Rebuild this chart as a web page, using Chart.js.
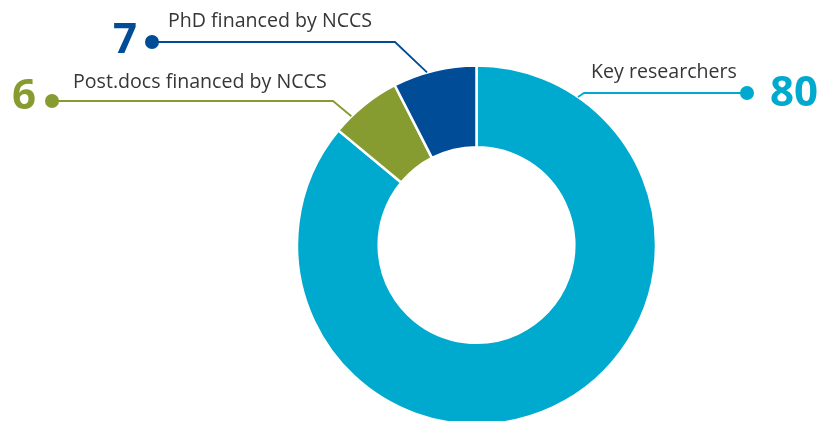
<!DOCTYPE html>
<html>
<head>
<meta charset="utf-8">
<script src="https://cdn.jsdelivr.net/npm/chart.js@4.4.1/dist/chart.umd.min.js"></script>
<style>
  html, body { margin: 0; padding: 0; background: #fff; }
  #wrap { width: 834px; height: 421px; }
</style>
</head>
<body>
<div id="wrap"><canvas id="donutChart" width="834" height="421"></canvas></div>
<script>
// data
const categories = ['Key researchers', 'Post.docs financed by NCCS', 'PhD financed by NCCS'];
const counts = [80, 6, 7];
const colors = ['#00a9ce', '#869b30', '#004c97'];

// where each callout sits (dot, elbow, angle on ring, text spots)
const callouts = [
  { dot: [747, 93], elbow: [584, 93], angle: 34.4, text: [591, 78], num: [770, 106], numAlign: 'left' },
  { dot: [52, 101], elbow: [333, 101], angle: 315.8, text: [73, 88], num: [36, 109], numAlign: 'right' },
  { dot: [152, 42], elbow: [395, 42], angle: 344, text: [168, 27], num: [137, 53], numAlign: 'right' }
];

const calloutPlugin = {
  id: 'callouts',
  afterDatasetsDraw(chart) {
    const ctx = chart.ctx;
    const meta = chart.getDatasetMeta(0);
    meta.data.forEach((arc, i) => {
      const c = callouts[i];
      const a = c.angle * Math.PI / 180;
      const r = arc.outerRadius;
      const ax = arc.x + r * Math.sin(a);
      const ay = arc.y - r * Math.cos(a);
      ctx.save();
      ctx.strokeStyle = colors[i];
      ctx.fillStyle = colors[i];
      ctx.lineWidth = 1.8;
      ctx.beginPath();
      ctx.moveTo(c.dot[0], c.dot[1]);
      ctx.lineTo(c.elbow[0], c.elbow[1]);
      ctx.lineTo(ax, ay);
      ctx.stroke();
      ctx.beginPath();
      ctx.arc(c.dot[0], c.dot[1], 7, 0, Math.PI * 2);
      ctx.fill();

      ctx.font = 'bold 42px "Open Sans"';
      ctx.textAlign = c.numAlign;
      ctx.textBaseline = 'alphabetic';
      ctx.fillText(String(counts[i]), c.num[0], c.num[1]);

      ctx.fillStyle = '#363636';
      ctx.font = '19.6px "Open Sans"';
      ctx.textAlign = 'left';
      ctx.fillText(categories[i], c.text[0], c.text[1]);
      ctx.restore();
    });
  }
};

new Chart(document.getElementById('donutChart'), {
  type: 'doughnut',
  data: {
    labels: categories,
    datasets: [{
      data: counts,
      backgroundColor: colors,
      borderColor: '#ffffff',
      borderWidth: 2.5,
      hoverOffset: 0
    }]
  },
  options: {
    responsive: false,
    animation: false,
    radius: 179.5,
    cutout: '54.5%',
    layout: { padding: { top: 69, bottom: 0, left: 300, right: 181 } },
    plugins: {
      legend: { display: false },
      tooltip: { enabled: false }
    }
  },
  plugins: [calloutPlugin]
});
</script>
</body>
</html>
